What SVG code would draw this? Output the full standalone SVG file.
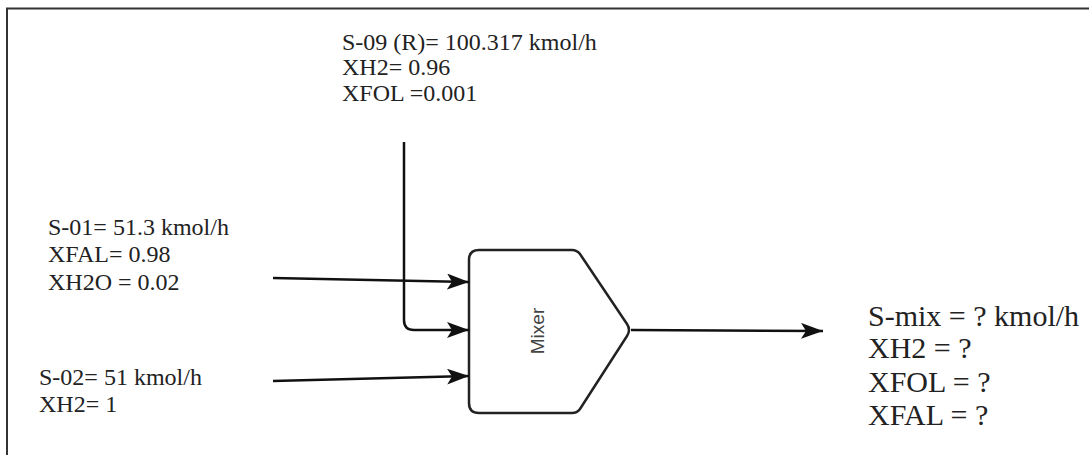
<svg xmlns="http://www.w3.org/2000/svg" width="1089" height="455" viewBox="0 0 1089 455">
<defs>
<marker id="ah" markerWidth="22" markerHeight="16" refX="22" refY="8" orient="auto" markerUnits="userSpaceOnUse">
<path d="M0,0 L22,8 L0,16 L5,8 Z" fill="#111"/>
</marker>
</defs>
<style>
text.lbl{font-family:'Liberation Serif','Times New Roman',Times,serif;fill:#222}
.conn{fill:none;stroke:#111;stroke-width:2.5}
</style>
<rect x="0" y="0" width="1089" height="455" fill="#fff"/>
<rect x="7" y="8.5" width="1100" height="460" fill="none" stroke="#333" stroke-width="2"/>
<g id="mixer">
<path d="M479,250 L572,250 Q577,250 580,254 L627,324 Q631,330 627,336 L580,409 Q577,413 572,413 L479,413 Q469,413 469,403 L469,260 Q469,250 479,250 Z" fill="#fff" stroke="#222" stroke-width="2.5"/>
<text x="0" y="0" transform="translate(544,331) rotate(-90)" text-anchor="middle" font-family="Liberation Sans, Arial, sans-serif" font-size="19" fill="#444">Mixer</text>
</g>
<g id="connectors">
<path class="conn" d="M273,278 L469,282" marker-end="url(#ah)"/>
<path class="conn" d="M404,142 L404,320 Q404,330 414,330 L469,330" marker-end="url(#ah)"/>
<path class="conn" d="M273,381 L469,376" marker-end="url(#ah)"/>
<path class="conn" d="M631,330 L823,331" marker-end="url(#ah)"/>
</g>
<g id="label-s09">
<text x="342" y="50" class="lbl" font-size="24">S-09 (R)= 100.317 kmol/h</text>
<text x="342" y="75" class="lbl" font-size="24">XH2= 0.96</text>
<text x="342" y="101" class="lbl" font-size="24">XFOL =0.001</text>
</g>
<g id="label-s01">
<text x="48" y="235" class="lbl" font-size="24">S-01= 51.3 kmol/h</text>
<text x="48" y="262" class="lbl" font-size="24">XFAL= 0.98</text>
<text x="48" y="290" class="lbl" font-size="24">XH2O = 0.02</text>
</g>
<g id="label-s02">
<text x="39" y="385" class="lbl" font-size="24">S-02= 51 kmol/h</text>
<text x="39" y="412" class="lbl" font-size="24">XH2= 1</text>
</g>
<g id="label-smix">
<text x="868" y="326" class="lbl" font-size="30">S-mix = ? kmol/h</text>
<text x="868" y="358" class="lbl" font-size="30">XH2 = ?</text>
<text x="868" y="392" class="lbl" font-size="30">XFOL = ?</text>
<text x="868" y="425" class="lbl" font-size="30">XFAL = ?</text>
</g>
</svg>
